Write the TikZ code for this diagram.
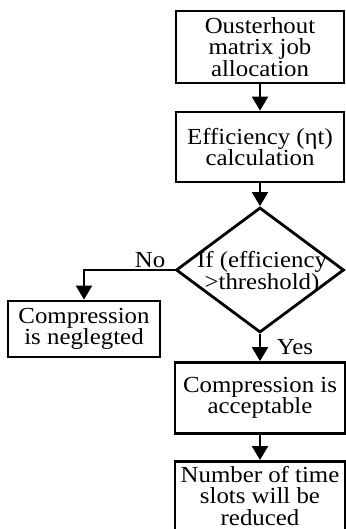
\documentclass[tikz,border=0pt]{standalone}
\usepackage{fontspec}
\setmainfont[FakeStretch=1.08]{Liberation Serif}
\usetikzlibrary{shapes.geometric,arrows.meta}

\tikzset{
  txt/.style={font=\fontsize{23}{21.5}\selectfont},
  stepbox/.style={draw, line width=2.8pt, rectangle, align=center, inner sep=0pt, txt},
  decision/.style={draw, line width=2.8pt, diamond, inner sep=0pt},
  arr/.style={line width=2.4pt, -{Triangle[width=16pt,length=14pt]}},
  lbl/.style={inner sep=0pt, txt}
}

\begin{document}
\begin{tikzpicture}[x=1pt,y=-1pt]
  \useasboundingbox (0,0) rectangle (345,529);

  % main column
  \node[stepbox, minimum width=168pt, minimum height=72pt] (alloc) at (260,47)
    {Ousterhout\\matrix job\\allocation};
  \node[stepbox, minimum width=168pt, minimum height=70pt] (eff) at (260,147)
    {Efficiency (ηt)\\calculation};
  \node[decision, minimum width=168pt, minimum height=125pt] (dec) at (260,270) {};
  \node[lbl, align=center] (dectxt) at (262,273) {If (efficiency\\>threshold)};
  \node[stepbox, minimum width=170pt, minimum height=71pt] (accept) at (260,398)
    {Compression is\\acceptable};
  % last box runs past the lower edge; its text sits inside it
  \node[stepbox, minimum width=170pt, minimum height=84pt, anchor=north] (reduce) at (260,460) {};
  \node[lbl, align=center] (reducetxt) at (260,496)
    {Number of time\\slots will be\\reduced};

  % side branch
  \node[stepbox, minimum width=152pt, minimum height=56pt] (neglect) at (84,329)
    {Compression\\is neglegted};

  % connectors
  \draw[arr] (alloc) -- (eff);
  \draw[arr] (eff) -- (dec.north);
  \draw[arr] (dec.west) -| (neglect.north);
  \draw[arr] (dec.south) -- (accept.north);
  \draw[arr] (accept) -- (reduce.north);

  % branch labels
  \node[lbl, anchor=base] (nolbl) at (150,267) {No};
  \node[lbl, anchor=base] (yeslbl) at (295,354) {Yes};
\end{tikzpicture}
\end{document}
